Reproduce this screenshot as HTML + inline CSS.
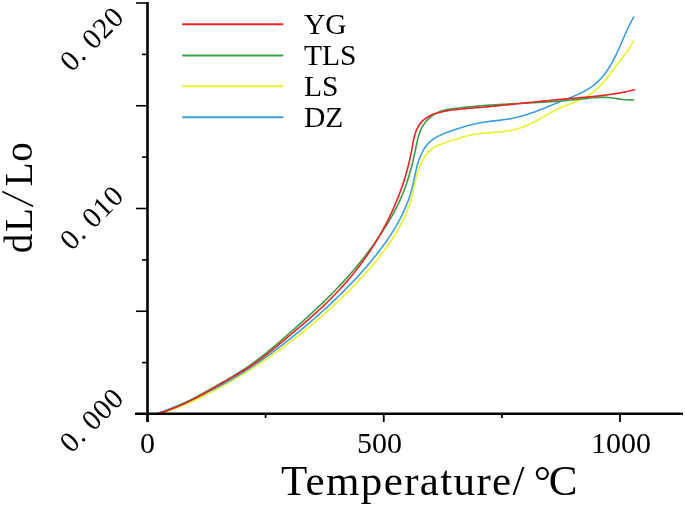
<!DOCTYPE html>
<html><head><meta charset="utf-8"><style>
html,body{margin:0;padding:0;background:#fff;}
svg{display:block;will-change:transform;}
text{font-family:"Liberation Serif",serif;fill:#000;}
.yl{font-size:29px;letter-spacing:0.7px}
.lg{font-size:29.5px;}
.xl{font-size:30px;}
</style></head><body>
<svg width="685" height="505" viewBox="0 0 685 505">
<rect width="685" height="505" fill="#fff"/>
<g fill="none" stroke-width="1.6" stroke-linejoin="round" stroke-linecap="round">
<path d="M160.02,414.04 162.03,413.37 164.04,412.68 166.04,411.98 168.03,411.27 170.02,410.54 172.00,409.80 173.98,409.05 175.95,408.28 177.92,407.50 179.88,406.70 181.83,405.90 183.78,405.08 185.73,404.25 187.67,403.40 189.60,402.55 191.53,401.68 193.46,400.80 195.38,399.92 197.29,399.02 199.20,398.11 201.11,397.19 203.01,396.26 204.91,395.32 206.80,394.37 208.69,393.41 210.57,392.44 212.45,391.46 214.32,390.48 216.19,389.48 218.06,388.48 219.92,387.47 221.78,386.45 223.63,385.42 225.48,384.39 227.33,383.35 229.17,382.30 231.00,381.24 232.84,380.18 234.67,379.11 236.50,378.04 238.32,376.96 240.14,375.87 241.95,374.77 243.76,373.67 245.57,372.56 247.37,371.45 249.17,370.33 250.97,369.20 252.76,368.06 254.54,366.92 256.32,365.78 258.10,364.62 259.87,363.46 261.64,362.29 263.40,361.12 265.16,359.94 266.92,358.75 268.67,357.56 270.41,356.36 272.15,355.15 273.89,353.94 275.62,352.72 277.35,351.49 279.07,350.26 280.79,349.02 282.50,347.78 284.20,346.53 285.91,345.27 287.60,344.00 289.29,342.73 290.98,341.46 292.66,340.17 294.34,338.88 296.01,337.59 297.67,336.28 299.33,334.98 300.99,333.66 302.64,332.34 304.28,331.01 305.92,329.68 307.56,328.34 309.19,326.99 310.81,325.64 312.43,324.28 314.05,322.92 315.66,321.55 317.26,320.17 318.86,318.79 320.45,317.40 322.04,316.00 323.63,314.60 325.20,313.19 326.78,311.78 328.35,310.36 329.91,308.93 331.47,307.50 333.03,306.06 334.57,304.62 336.12,303.17 337.66,301.72 339.19,300.25 340.72,298.79 342.25,297.31 343.77,295.84 345.28,294.35 346.79,292.86 348.29,291.36 349.79,289.86 351.29,288.35 352.78,286.84 354.26,285.32 355.74,283.79 357.21,282.26 358.68,280.72 360.14,279.17 361.59,277.62 363.03,276.06 364.46,274.49 365.89,272.91 367.30,271.33 368.71,269.74 370.10,268.14 371.49,266.53 372.87,264.92 374.23,263.29 375.58,261.66 376.92,260.02 378.25,258.37 379.56,256.71 380.86,255.04 382.15,253.36 383.43,251.67 384.68,249.97 385.93,248.26 387.16,246.54 388.37,244.81 389.57,243.07 390.75,241.31 391.91,239.55 393.06,237.78 394.19,235.99 395.30,234.19 396.40,232.39 397.47,230.56 398.52,228.73 399.56,226.89 400.57,225.03 401.56,223.16 402.52,221.28 403.46,219.38 404.37,217.47 405.25,215.55 406.09,213.61 406.91,211.66 407.69,209.70 408.43,207.72 409.14,205.73 409.81,203.72 410.43,201.70 411.02,199.66 411.57,197.61 412.09,195.55 412.59,193.48 413.07,191.41 413.53,189.33 413.99,187.25 414.46,185.17 414.92,183.09 415.40,181.01 415.90,178.95 416.43,176.89 416.98,174.84 417.57,172.80 418.20,170.78 418.89,168.78 419.62,166.79 420.42,164.83 421.29,162.89 422.22,160.98 423.24,159.10 424.34,157.25 425.53,155.47 426.81,153.77 428.19,152.17 429.67,150.69 431.25,149.34 432.93,148.12 434.70,147.04 436.55,146.07 438.46,145.20 440.41,144.40 442.40,143.65 444.40,142.94 446.42,142.25 448.45,141.59 450.49,140.94 452.52,140.30 454.56,139.67 456.59,139.04 458.62,138.40 460.63,137.76 462.64,137.13 464.66,136.53 466.69,135.98 468.73,135.48 470.79,135.04 472.86,134.65 474.95,134.31 477.04,134.01 479.15,133.74 481.26,133.50 483.38,133.29 485.51,133.10 487.64,132.92 489.77,132.75 491.90,132.58 494.03,132.41 496.16,132.24 498.28,132.05 500.40,131.84 502.51,131.61 504.62,131.36 506.71,131.07 508.79,130.74 510.87,130.36 512.92,129.94 514.96,129.46 516.99,128.93 518.99,128.33 520.98,127.66 522.95,126.94 524.91,126.17 526.85,125.35 528.78,124.48 530.69,123.58 532.59,122.64 534.48,121.68 536.37,120.69 538.24,119.68 540.10,118.66 541.96,117.63 543.82,116.59 545.67,115.56 547.52,114.53 549.37,113.50 551.22,112.49 553.07,111.49 554.94,110.51 556.81,109.55 558.70,108.62 560.60,107.72 562.52,106.84 564.46,106.01 566.42,105.21 568.40,104.44 570.39,103.68 572.39,102.94 574.38,102.19 576.36,101.43 578.33,100.63 580.28,99.80 582.21,98.92 584.10,97.97 585.94,96.95 587.75,95.86 589.53,94.71 591.26,93.49 592.95,92.22 594.60,90.89 596.21,89.51 597.78,88.08 599.32,86.61 600.81,85.10 602.26,83.55 603.68,81.98 605.06,80.37 606.40,78.74 607.72,77.09 609.02,75.43 610.30,73.75 611.57,72.05 612.82,70.35 614.08,68.65 615.33,66.95 616.59,65.25 617.85,63.55 619.13,61.87 620.42,60.19 621.71,58.51 623.00,56.83 624.29,55.14 625.55,53.45 626.80,51.74 628.03,50.01 629.22,48.27 630.38,46.49 631.49,44.69 632.56,42.85 633.57,40.98" stroke="#ebf22a"/>
<path d="M157.99,413.45 160.02,412.67 162.06,411.88 164.10,411.08 166.13,410.28 168.16,409.47 170.19,408.66 172.22,407.83 174.24,407.01 176.27,406.17 178.29,405.33 180.30,404.49 182.32,403.63 184.33,402.77 186.34,401.90 188.35,401.03 190.35,400.14 192.35,399.25 194.35,398.35 196.34,397.44 198.33,396.52 200.31,395.60 202.29,394.66 204.26,393.72 206.23,392.77 208.20,391.80 210.16,390.83 212.12,389.85 214.07,388.86 216.01,387.86 217.95,386.85 219.88,385.82 221.81,384.79 223.73,383.75 225.65,382.69 227.56,381.63 229.46,380.55 231.36,379.46 233.25,378.36 235.13,377.25 237.01,376.13 238.88,375.00 240.74,373.86 242.60,372.70 244.45,371.54 246.29,370.36 248.13,369.18 249.96,367.99 251.79,366.78 253.61,365.57 255.43,364.35 257.24,363.12 259.04,361.88 260.84,360.64 262.63,359.38 264.42,358.12 266.20,356.85 267.98,355.57 269.75,354.28 271.51,352.99 273.28,351.69 275.03,350.38 276.78,349.07 278.53,347.75 280.27,346.42 282.01,345.09 283.74,343.75 285.47,342.40 287.19,341.05 288.91,339.70 290.62,338.34 292.33,336.97 294.04,335.60 295.74,334.23 297.43,332.85 299.12,331.46 300.81,330.07 302.49,328.67 304.17,327.27 305.84,325.87 307.51,324.45 309.18,323.04 310.83,321.61 312.49,320.18 314.14,318.75 315.78,317.31 317.42,315.86 319.05,314.41 320.68,312.96 322.30,311.49 323.92,310.02 325.53,308.55 327.14,307.07 328.74,305.58 330.34,304.09 331.93,302.59 333.51,301.08 335.09,299.57 336.67,298.05 338.23,296.53 339.80,295.00 341.35,293.46 342.90,291.92 344.45,290.37 345.99,288.81 347.52,287.25 349.05,285.68 350.57,284.10 352.08,282.52 353.59,280.92 355.09,279.33 356.59,277.72 358.07,276.11 359.55,274.49 361.02,272.86 362.48,271.23 363.94,269.59 365.38,267.94 366.81,266.28 368.24,264.61 369.65,262.94 371.05,261.26 372.45,259.57 373.83,257.87 375.20,256.17 376.55,254.45 377.90,252.73 379.23,251.00 380.55,249.26 381.86,247.51 383.15,245.75 384.43,243.99 385.69,242.21 386.94,240.43 388.18,238.63 389.39,236.82 390.59,235.01 391.78,233.18 392.94,231.33 394.08,229.48 395.21,227.61 396.31,225.72 397.39,223.82 398.45,221.91 399.48,219.98 400.49,218.04 401.48,216.08 402.44,214.11 403.37,212.13 404.28,210.13 405.16,208.12 406.01,206.10 406.83,204.07 407.62,202.02 408.37,199.97 409.10,197.90 409.79,195.82 410.45,193.73 411.08,191.63 411.67,189.51 412.22,187.39 412.74,185.26 413.23,183.12 413.70,180.98 414.16,178.83 414.62,176.68 415.07,174.54 415.54,172.40 416.02,170.27 416.54,168.14 417.08,166.03 417.66,163.93 418.30,161.86 418.99,159.79 419.74,157.76 420.56,155.74 421.47,153.75 422.45,151.80 423.53,149.89 424.69,148.03 425.95,146.25 427.31,144.55 428.76,142.94 430.32,141.44 431.98,140.05 433.74,138.79 435.59,137.64 437.50,136.59 439.47,135.62 441.48,134.72 443.53,133.87 445.59,133.07 447.67,132.30 449.74,131.55 451.80,130.80 453.85,130.07 455.91,129.35 457.97,128.65 460.04,127.98 462.12,127.32 464.21,126.69 466.31,126.08 468.42,125.50 470.54,124.95 472.67,124.43 474.80,123.93 476.94,123.46 479.09,123.03 481.24,122.63 483.40,122.26 485.56,121.92 487.72,121.62 489.89,121.35 492.06,121.09 494.24,120.84 496.41,120.60 498.58,120.35 500.75,120.10 502.92,119.83 505.09,119.54 507.26,119.21 509.42,118.86 511.57,118.46 513.72,118.02 515.86,117.55 518.00,117.04 520.12,116.49 522.24,115.92 524.35,115.31 526.46,114.67 528.55,114.01 530.63,113.32 532.69,112.61 534.75,111.88 536.79,111.12 538.82,110.35 540.85,109.56 542.86,108.76 544.87,107.95 546.88,107.13 548.88,106.30 550.89,105.46 552.90,104.63 554.91,103.80 556.93,102.97 558.96,102.14 561.00,101.32 563.04,100.51 565.10,99.69 567.16,98.88 569.21,98.06 571.26,97.23 573.31,96.38 575.34,95.51 577.35,94.61 579.35,93.69 581.33,92.74 583.28,91.75 585.20,90.71 587.08,89.63 588.93,88.50 590.74,87.31 592.51,86.07 594.23,84.76 595.90,83.38 597.52,81.94 599.08,80.42 600.59,78.84 602.04,77.19 603.44,75.50 604.80,73.77 606.10,71.99 607.35,70.18 608.56,68.35 609.72,66.49 610.85,64.61 611.93,62.71 612.98,60.80 614.00,58.86 614.99,56.91 615.95,54.95 616.89,52.98 617.82,50.99 618.72,49.00 619.62,47.00 620.50,44.99 621.38,42.98 622.25,40.97 623.12,38.96 624.00,36.96 624.88,34.95 625.78,32.95 626.68,30.95 627.60,28.97 628.54,26.99 629.50,25.03 630.49,23.07 631.50,21.14 632.54,19.22 633.62,17.31" stroke="#3c9fde"/>
<path d="M157.95,413.41 159.99,412.83 162.01,412.22 164.02,411.58 166.01,410.91 167.98,410.21 169.94,409.48 171.89,408.72 173.82,407.94 175.75,407.13 177.66,406.30 179.56,405.45 181.44,404.58 183.32,403.68 185.19,402.77 187.06,401.85 188.91,400.91 190.76,399.95 192.60,398.98 194.44,398.00 196.27,397.01 198.10,396.01 199.93,395.01 201.75,393.99 203.57,392.98 205.39,391.95 207.21,390.93 209.03,389.90 210.85,388.88 212.67,387.85 214.50,386.83 216.32,385.80 218.14,384.77 219.96,383.74 221.78,382.71 223.60,381.67 225.41,380.63 227.23,379.58 229.03,378.52 230.84,377.46 232.63,376.39 234.42,375.31 236.21,374.23 237.99,373.13 239.76,372.02 241.52,370.91 243.28,369.78 245.02,368.63 246.76,367.48 248.49,366.31 250.20,365.12 251.90,363.92 253.60,362.70 255.28,361.47 256.95,360.23 258.62,358.97 260.27,357.71 261.92,356.43 263.56,355.14 265.19,353.84 266.81,352.52 268.43,351.20 270.04,349.88 271.64,348.54 273.24,347.20 274.84,345.85 276.42,344.49 278.01,343.13 279.59,341.76 281.17,340.39 282.74,339.02 284.31,337.65 285.88,336.27 287.45,334.89 289.02,333.51 290.59,332.13 292.15,330.74 293.72,329.36 295.28,327.98 296.84,326.60 298.41,325.21 299.96,323.83 301.52,322.44 303.08,321.05 304.63,319.65 306.18,318.25 307.72,316.85 309.26,315.44 310.80,314.03 312.34,312.61 313.87,311.19 315.39,309.77 316.92,308.33 318.43,306.90 319.94,305.45 321.45,304.01 322.96,302.55 324.45,301.09 325.95,299.63 327.43,298.16 328.91,296.69 330.39,295.20 331.86,293.72 333.32,292.22 334.78,290.72 336.23,289.22 337.67,287.71 339.11,286.19 340.54,284.67 341.97,283.14 343.38,281.60 344.79,280.06 346.20,278.51 347.59,276.96 348.98,275.39 350.36,273.83 351.73,272.25 353.09,270.67 354.45,269.08 355.79,267.48 357.13,265.88 358.46,264.27 359.78,262.65 361.10,261.03 362.40,259.40 363.69,257.76 364.98,256.12 366.25,254.47 367.52,252.81 368.78,251.15 370.03,249.47 371.26,247.80 372.49,246.11 373.71,244.42 374.92,242.72 376.12,241.01 377.30,239.29 378.48,237.57 379.65,235.84 380.80,234.10 381.95,232.36 383.08,230.61 384.21,228.85 385.32,227.08 386.42,225.31 387.51,223.53 388.59,221.74 389.66,219.95 390.71,218.14 391.75,216.33 392.77,214.51 393.78,212.68 394.77,210.84 395.74,208.99 396.69,207.13 397.63,205.26 398.54,203.37 399.42,201.48 400.29,199.58 401.13,197.66 401.94,195.73 402.74,193.79 403.51,191.85 404.25,189.89 404.98,187.93 405.69,185.96 406.37,183.99 407.03,182.01 407.68,180.02 408.31,178.04 408.92,176.05 409.51,174.07 410.08,172.08 410.64,170.09 411.18,168.09 411.71,166.10 412.22,164.09 412.72,162.08 413.20,160.07 413.67,158.04 414.13,156.01 414.58,153.96 415.02,151.90 415.45,149.83 415.87,147.74 416.29,145.65 416.72,143.56 417.18,141.48 417.67,139.41 418.20,137.36 418.78,135.33 419.43,133.34 420.15,131.38 420.95,129.48 421.84,127.62 422.84,125.83 423.95,124.10 425.17,122.44 426.49,120.85 427.91,119.35 429.43,117.93 431.02,116.61 432.70,115.38 434.45,114.25 436.26,113.22 438.13,112.31 440.05,111.51 442.01,110.83 444.02,110.25 446.06,109.77 448.12,109.36 450.20,109.02 452.30,108.72 454.40,108.47 456.51,108.23 458.61,108.00 460.71,107.78 462.80,107.56 464.88,107.33 466.96,107.11 469.04,106.90 471.11,106.69 473.19,106.49 475.26,106.29 477.33,106.10 479.41,105.92 481.48,105.75 483.56,105.58 485.63,105.42 487.71,105.26 489.79,105.12 491.87,104.97 493.95,104.83 496.03,104.70 498.12,104.57 500.20,104.45 502.28,104.33 504.37,104.21 506.45,104.10 508.54,103.98 510.62,103.87 512.71,103.77 514.79,103.66 516.88,103.56 518.97,103.45 521.05,103.35 523.14,103.24 525.23,103.14 527.31,103.04 529.40,102.93 531.49,102.82 533.57,102.72 535.66,102.60 537.75,102.49 539.83,102.38 541.92,102.26 544.01,102.13 546.09,102.01 548.18,101.88 550.26,101.74 552.35,101.60 554.43,101.46 556.51,101.31 558.60,101.15 560.68,100.99 562.76,100.82 564.84,100.64 566.92,100.46 569.00,100.27 571.08,100.07 573.16,99.87 575.23,99.66 577.31,99.45 579.39,99.24 581.46,99.03 583.54,98.82 585.62,98.61 587.70,98.40 589.78,98.20 591.85,97.99 593.93,97.81 596.01,97.64 598.09,97.50 600.17,97.40 602.24,97.35 604.32,97.35 606.39,97.42 608.46,97.57 610.54,97.77 612.61,98.01 614.68,98.29 616.75,98.59 618.82,98.88 620.89,99.17 622.97,99.42 625.05,99.64 627.13,99.80 629.21,99.89 631.30,99.89 633.40,99.80" stroke="#3b9d4a"/>
<path d="M157.95,413.42 160.00,412.84 162.03,412.24 164.05,411.60 166.05,410.94 168.04,410.26 170.03,409.55 172.00,408.81 173.95,408.06 175.90,407.28 177.84,406.47 179.77,405.65 181.69,404.81 183.60,403.95 185.50,403.07 187.39,402.17 189.28,401.25 191.16,400.33 193.03,399.38 194.89,398.42 196.75,397.45 198.61,396.47 200.45,395.47 202.30,394.47 204.13,393.45 205.97,392.43 207.80,391.40 209.63,390.36 211.45,389.31 213.27,388.26 215.09,387.21 216.91,386.15 218.73,385.09 220.54,384.03 222.36,382.97 224.17,381.90 225.99,380.84 227.80,379.78 229.62,378.72 231.44,377.66 233.26,376.61 235.08,375.55 236.89,374.50 238.71,373.44 240.51,372.37 242.32,371.29 244.11,370.20 245.90,369.10 247.68,367.99 249.44,366.85 251.20,365.70 252.94,364.53 254.67,363.34 256.39,362.13 258.09,360.91 259.79,359.67 261.48,358.41 263.15,357.15 264.82,355.87 266.48,354.58 268.13,353.28 269.78,351.97 271.41,350.65 273.05,349.33 274.67,348.00 276.29,346.66 277.91,345.32 279.52,343.98 281.14,342.63 282.74,341.28 284.35,339.92 285.96,338.57 287.56,337.21 289.17,335.86 290.78,334.51 292.38,333.15 293.99,331.80 295.60,330.45 297.21,329.09 298.82,327.74 300.42,326.38 302.03,325.02 303.63,323.65 305.22,322.29 306.82,320.91 308.40,319.54 309.98,318.15 311.56,316.76 313.13,315.37 314.69,313.97 316.25,312.56 317.80,311.14 319.34,309.72 320.88,308.28 322.41,306.85 323.93,305.40 325.44,303.95 326.95,302.49 328.44,301.02 329.93,299.54 331.42,298.05 332.89,296.56 334.35,295.06 335.81,293.55 337.25,292.03 338.69,290.50 340.12,288.96 341.54,287.41 342.95,285.86 344.35,284.29 345.73,282.71 347.11,281.13 348.48,279.53 349.84,277.93 351.19,276.31 352.52,274.69 353.85,273.05 355.16,271.41 356.47,269.75 357.76,268.09 359.04,266.41 360.31,264.73 361.56,263.04 362.81,261.34 364.04,259.63 365.26,257.91 366.47,256.18 367.67,254.44 368.86,252.70 370.03,250.95 371.19,249.19 372.34,247.42 373.47,245.64 374.59,243.86 375.70,242.07 376.80,240.27 377.88,238.47 378.95,236.65 380.01,234.83 381.05,233.01 382.08,231.18 383.10,229.34 384.10,227.49 385.09,225.64 386.06,223.78 387.02,221.92 387.97,220.05 388.90,218.18 389.81,216.29 390.72,214.41 391.60,212.51 392.48,210.62 393.34,208.71 394.18,206.80 395.01,204.88 395.82,202.96 396.62,201.03 397.41,199.09 398.18,197.15 398.93,195.20 399.67,193.25 400.40,191.29 401.10,189.32 401.80,187.35 402.48,185.37 403.14,183.38 403.79,181.38 404.42,179.38 405.04,177.38 405.64,175.36 406.22,173.34 406.79,171.31 407.34,169.28 407.88,167.24 408.40,165.19 408.91,163.13 409.40,161.07 409.87,159.00 410.33,156.93 410.77,154.84 411.19,152.75 411.60,150.65 411.99,148.55 412.37,146.44 412.74,144.33 413.13,142.22 413.54,140.13 413.99,138.06 414.49,136.02 415.05,134.02 415.70,132.05 416.44,130.14 417.29,128.29 418.25,126.50 419.36,124.79 420.60,123.15 421.98,121.61 423.47,120.16 425.07,118.81 426.77,117.57 428.56,116.45 430.42,115.46 432.34,114.60 434.31,113.86 436.32,113.23 438.36,112.67 440.41,112.17 442.47,111.72 444.54,111.30 446.61,110.91 448.68,110.56 450.75,110.24 452.83,109.95 454.92,109.68 457.00,109.44 459.09,109.21 461.18,109.00 463.27,108.81 465.36,108.62 467.45,108.45 469.55,108.28 471.64,108.11 473.74,107.95 475.83,107.78 477.92,107.61 480.02,107.43 482.11,107.25 484.20,107.07 486.30,106.88 488.39,106.69 490.48,106.49 492.57,106.30 494.66,106.10 496.75,105.89 498.84,105.69 500.93,105.48 503.02,105.27 505.11,105.06 507.20,104.84 509.29,104.63 511.38,104.41 513.47,104.19 515.56,103.97 517.65,103.75 519.74,103.53 521.83,103.31 523.92,103.09 526.01,102.87 528.10,102.65 530.19,102.43 532.28,102.21 534.37,101.99 536.45,101.77 538.54,101.55 540.63,101.33 542.72,101.12 544.81,100.91 546.90,100.69 548.99,100.49 551.09,100.28 553.18,100.07 555.27,99.87 557.36,99.67 559.45,99.48 561.54,99.29 563.64,99.10 565.73,98.91 567.82,98.73 569.92,98.55 572.01,98.37 574.10,98.19 576.20,98.02 578.29,97.84 580.38,97.66 582.48,97.48 584.57,97.30 586.66,97.11 588.75,96.92 590.84,96.72 592.93,96.51 595.02,96.30 597.11,96.08 599.20,95.85 601.28,95.61 603.37,95.36 605.45,95.10 607.53,94.82 609.61,94.54 611.69,94.24 613.76,93.92 615.84,93.59 617.91,93.24 619.98,92.88 622.05,92.49 624.11,92.09 626.17,91.67 628.23,91.23 630.29,90.76 632.35,90.28 634.40,89.77" stroke="#ee2424"/>
</g>
<line x1="147.5" y1="2" x2="147.5" y2="422" stroke="#000" stroke-width="2.6"/>
<line x1="135" y1="413.7" x2="683" y2="413.7" stroke="#000" stroke-width="2.5"/>
<line x1="136" y1="3" x2="148" y2="3" stroke="#000" stroke-width="1.6"/><line x1="136" y1="105.75" x2="148" y2="105.75" stroke="#000" stroke-width="1.6"/><line x1="136" y1="208.5" x2="148" y2="208.5" stroke="#000" stroke-width="1.6"/><line x1="136" y1="311.25" x2="148" y2="311.25" stroke="#000" stroke-width="1.6"/><line x1="136" y1="414" x2="148" y2="414" stroke="#000" stroke-width="1.6"/><line x1="142" y1="54.4" x2="148" y2="54.4" stroke="#000" stroke-width="1.6"/><line x1="142" y1="157.1" x2="148" y2="157.1" stroke="#000" stroke-width="1.6"/><line x1="142" y1="259.9" x2="148" y2="259.9" stroke="#000" stroke-width="1.6"/><line x1="142" y1="362.6" x2="148" y2="362.6" stroke="#000" stroke-width="1.6"/><line x1="147.5" y1="413" x2="147.5" y2="422" stroke="#000" stroke-width="1.8"/><line x1="383.75" y1="413" x2="383.75" y2="422" stroke="#000" stroke-width="1.8"/><line x1="620" y1="413" x2="620" y2="422" stroke="#000" stroke-width="1.8"/><line x1="265.6" y1="413" x2="265.6" y2="418" stroke="#000" stroke-width="1.8"/><line x1="501.9" y1="413" x2="501.9" y2="418" stroke="#000" stroke-width="1.8"/>
<g stroke-width="2" stroke-linecap="round">
<line x1="183" y1="24.2" x2="282.5" y2="24.2" stroke="#ee2424"/>
<line x1="183" y1="55.4" x2="282.5" y2="55.4" stroke="#3b9d4a"/>
<line x1="183" y1="86.3" x2="282.5" y2="86.3" stroke="#ebf22a"/>
<line x1="183" y1="117.3" x2="282.5" y2="117.3" stroke="#3c9fde"/>
</g>
<text x="304" y="33.6" class="lg">YG</text>
<text x="304" y="64.6" class="lg">TLS</text>
<text x="304" y="95.6" class="lg">LS</text>
<text x="304" y="126.6" class="lg">DZ</text>
<text transform="translate(98.4,426.9) rotate(-45)" text-anchor="middle" class="yl">0. 000</text>
<text transform="translate(98.5,224.4) rotate(-45)" text-anchor="middle" class="yl">0. 010</text>
<text transform="translate(98.6,45.7) rotate(-45)" text-anchor="middle" class="yl">0. 020</text>
<g style="font-size:39px">
<text transform="translate(32,253.2) rotate(-90)">d</text>
<text transform="translate(32,231.9) rotate(-90)">L</text>
<text transform="translate(32,186.2) rotate(-90)">L</text>
<text transform="translate(32,161.7) rotate(-90)">o</text>
</g>
<line x1="2.3" y1="191.6" x2="33" y2="206.3" stroke="#000" stroke-width="1.7"/>
<text x="147.5" y="453.3" text-anchor="middle" class="xl">0</text>
<text x="357.1" y="453.3" class="xl">500</text>
<text x="591.1" y="453.3" class="xl">1000</text>
<text x="281" y="494.8" style="font-size:43px;letter-spacing:1.35px">Temperature/</text><text x="533.7" y="494.8" style="font-size:43px">°</text><text x="548.7" y="494.8" style="font-size:43px">C</text>
</svg>
</body></html>
